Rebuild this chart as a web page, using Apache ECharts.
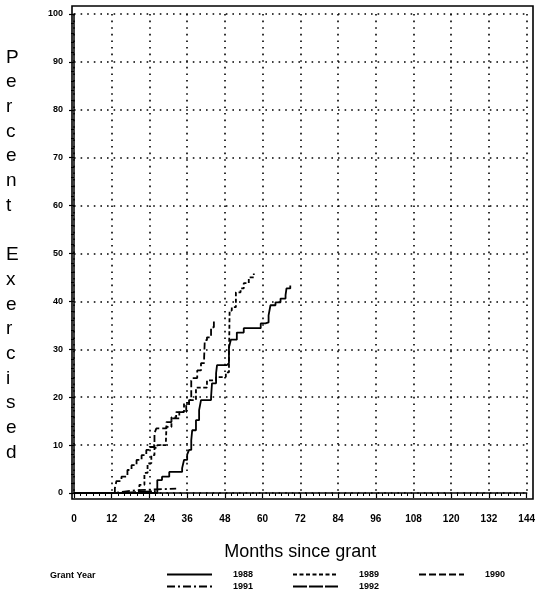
<!DOCTYPE html>
<html>
<head>
<meta charset="utf-8">
<script src="https://cdn.jsdelivr.net/npm/echarts@6/dist/echarts.min.js"></script>
<style>
  html, body { margin: 0; padding: 0; background: #fff; }
  #chart { width: 538px; height: 601px; }
</style>
</head>
<body>
<div id="chart"></div>
<script>
"use strict";

// grant year series: [month, percent exercised]
var grantYears = ["1988", "1989", "1990", "1991", "1992"];

var y1988 = [[0,0],[26.5,2.7],[28,3.4],[30.3,4.4],[34.4,5.2],[35,6.9],[36,8],[36.6,9],[37.3,11],
  [37.6,13.1],[38.8,15.2],[39.8,17.3],[40.4,19.4],[43.6,20],[43.9,22.9],[45.2,25],[45.5,26.7],
  [48.6,27.1],[49.3,30.4],[49.9,32],[51.8,33.5],[54,34.4],[58.1,34.4],[59.4,35.4],[60.9,35.6],
  [61.9,37.1],[62.5,39.2],[64.1,39.8],[65.7,40.6],[67.3,41.3],[67.6,42.7],[68.8,43.3]];

var y1989 = [[0,0],[20.8,1.7],[22.4,4.2],[23.4,6.2],[24.6,7.9],[25.6,9.4],[26.5,10],[29.2,10.4],
  [29.4,13.8],[31,15.8],[32.5,16.9],[35,18.8],[36.6,19.4],[38.8,22],[42.3,23.5],[45.2,24.2],
  [48.3,25.2],[49.3,27.7],[49.5,38.1],[50.2,38.8],[51.5,41.9],[53,42.7],[54,43.8],[55.6,45],[57.2,45.8]];

var y1990 = [[0,0],[13,1],[13.5,2.5],[15.1,3.4],[17,4.8],[18.3,5.8],[19.9,6.9],[21.5,7.9],[23,9],
  [24,9.6],[25.6,12.5],[26.2,13.5],[29.4,14.8],[31,15.6],[33.5,16.9],[35.7,18.3],[36.6,19.4],
  [37.3,23.5],[37.6,24],[39.2,25.6],[40.4,27.1],[41.4,28.3],[41.6,31.9],[42.3,32.5],[43.6,34.6],[44.5,36]];

var y1991 = [[0,0],[13,0.3],[16,0.6],[20,0.8],[28,0.9],[32.5,1.0]];

var y1992 = [[0,0],[14,0.2],[20,0.4],[26,0.5]];

var seriesData = [y1988, y1989, y1990, y1991, y1992];
var dashes = ["solid", [4, 2.5], [7, 3], [8, 3, 2, 3], [14, 2]];

// axis ticks
var xTicks = { min: 0, max: 144, step: 12 };
var yTicks = { min: 0, max: 100, step: 10 };

var tickFont = "Liberation Sans";

var series = [];
for (var i = 0; i < grantYears.length; i++) {
  series.push({
    name: grantYears[i],
    type: "line",
    step: "end",
    symbol: "none",
    data: seriesData[i],
    lineStyle: { color: "#000", width: 1.8, type: dashes[i] },
    itemStyle: { color: "#000" }
  });
}

// legend slots: two rows, three columns
var legendLeft = [166, 292, 418, 166, 292];
var legendTop = [570, 570, 570, 582, 582];
var legends = [];
for (var k = 0; k < grantYears.length; k++) {
  legends.push({
    data: [grantYears[k]],
    left: legendLeft[k],
    top: legendTop[k],
    itemWidth: 45,
    itemHeight: 10,
    padding: 0,
    selectedMode: false,
    itemStyle: { opacity: 0 },
    textStyle: { fontFamily: tickFont, fontWeight: "bold", fontSize: 9, color: "#000", padding: [0, 0, 0, 16] }
  });
}

var dotted = { color: "#000", width: 1.6, type: [1.6, 5] };

var option = {
  animation: false,
  backgroundColor: "#fff",
  grid: { left: 74, right: 8, top: 14, bottom: 108 },
  legend: legends,
  xAxis: {
    type: "value",
    min: xTicks.min, max: xTicks.max, interval: xTicks.step,
    offset: 6,
    name: "Months since grant",
    nameLocation: "middle",
    nameGap: 44,
    nameTextStyle: { fontFamily: tickFont, fontSize: 18, color: "#000" },
    axisLine: { show: true, lineStyle: { color: "#000", width: 1.5 } },
    axisTick: { show: true, length: 5, lineStyle: { color: "#000", width: 1.2 } },
    minorTick: { show: true, splitNumber: 6, length: 3, lineStyle: { color: "#000", width: 1 } },
    axisLabel: { fontFamily: tickFont, fontWeight: "bold", fontSize: 10, color: "#000", margin: 15 },
    splitLine: { show: true, lineStyle: dotted }
  },
  yAxis: {
    type: "value",
    min: yTicks.min, max: yTicks.max, interval: yTicks.step,
    offset: 2,
    axisLine: { show: true, lineStyle: { color: "#000", width: 1.5 } },
    axisTick: { show: true, length: 5, lineStyle: { color: "#000", width: 1.2 } },
    minorTick: { show: true, splitNumber: 5, length: 3, lineStyle: { color: "#000", width: 1 } },
    axisLabel: { fontFamily: tickFont, fontWeight: "bold", fontSize: 9, color: "#000", margin: 9 },
    splitLine: { show: true, lineStyle: dotted }
  },
  graphic: [
    { type: "rect", shape: { x: 72, y: 6, width: 461, height: 493 }, silent: true,
      style: { fill: null, stroke: "#000", lineWidth: 1.6 } },
    { type: "text", left: 50, top: 571, silent: true,
      style: { text: "Grant Year", fontFamily: tickFont, fontWeight: "bold", fontSize: 9, fill: "#000" } },
    { type: "text", left: 6, top: 45, silent: true,
      style: { text: "P\ne\nr\nc\ne\nn\nt\n\nE\nx\ne\nr\nc\ni\ns\ne\nd",
               fontFamily: "Liberation Sans", fontSize: 19, lineHeight: 24.7, align: "center", fill: "#000" } }
  ],
  series: series
};

var myChart = echarts.init(document.getElementById("chart"));
myChart.setOption(option);
</script>
</body>
</html>
